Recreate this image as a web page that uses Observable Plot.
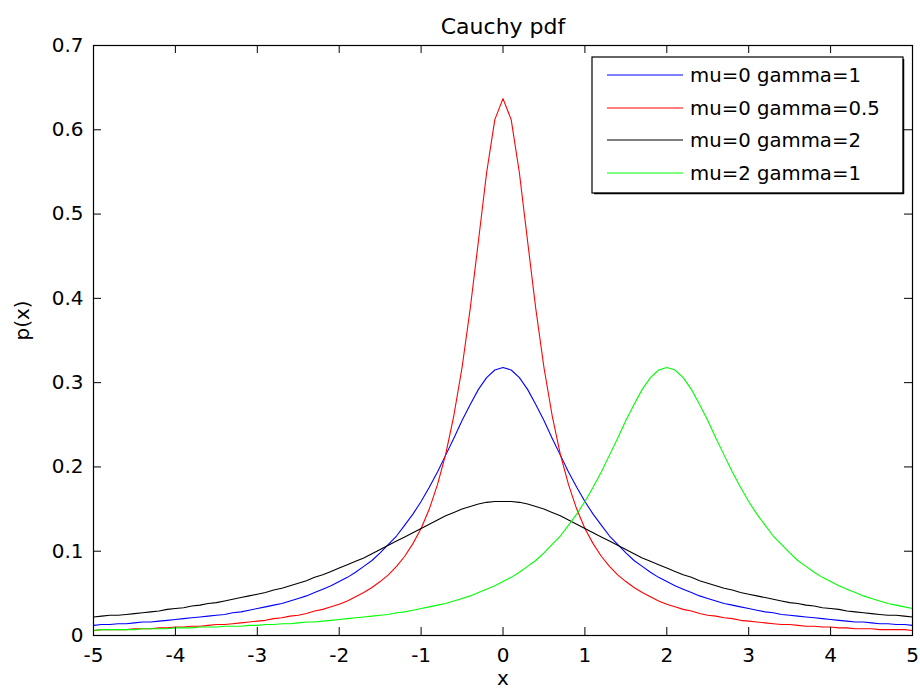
<!DOCTYPE html>
<html>
<head>
<meta charset="utf-8">
<script src="https://cdn.jsdelivr.net/npm/d3@7"></script>
<script src="https://cdn.jsdelivr.net/npm/@observablehq/plot@0.6"></script>
<style>
  html, body { margin: 0; padding: 0; background: #ffffff; }
  #chart { width: 920px; height: 693px; }
</style>
</head>
<body>
<div id="chart"></div>
<script>
// ---- data ----
const xs = [-5.0,-4.9,-4.8,-4.7,-4.6,-4.5,-4.4,-4.3,-4.2,-4.1,-4.0,-3.9,-3.8,-3.7,-3.6,-3.5,-3.4,-3.3,-3.2,-3.1,
  -3.0,-2.9,-2.8,-2.7,-2.6,-2.5,-2.4,-2.3,-2.2,-2.1,-2.0,-1.9,-1.8,-1.7,-1.6,-1.5,-1.4,-1.3,-1.2,-1.1,
  -1.0,-0.9,-0.8,-0.7,-0.6,-0.5,-0.4,-0.3,-0.2,-0.1,0.0,0.1,0.2,0.3,0.4,0.5,0.6,0.7,0.8,0.9,
  1.0,1.1,1.2,1.3,1.4,1.5,1.6,1.7,1.8,1.9,2.0,2.1,2.2,2.3,2.4,2.5,2.6,2.7,2.8,2.9,
  3.0,3.1,3.2,3.3,3.4,3.5,3.6,3.7,3.8,3.9,4.0,4.1,4.2,4.3,4.4,4.5,4.6,4.7,4.8,4.9,5.0];

// mu=0 gamma=1
const blueY = [0.012,0.013,0.013,0.014,0.014,0.015,0.016,0.016,0.017,0.018,0.019,0.020,0.021,0.022,0.023,0.024,0.025,0.027,0.028,0.030,
  0.032,0.034,0.036,0.038,0.041,0.044,0.047,0.051,0.055,0.059,0.064,0.069,0.075,0.082,0.089,0.098,0.108,0.118,0.131,0.144,
  0.159,0.176,0.194,0.214,0.234,0.255,0.274,0.292,0.306,0.315,0.318,0.315,0.306,0.292,0.274,0.255,0.234,0.214,0.194,0.176,
  0.159,0.144,0.131,0.118,0.108,0.098,0.089,0.082,0.075,0.069,0.064,0.059,0.055,0.051,0.047,0.044,0.041,0.038,0.036,0.034,
  0.032,0.030,0.028,0.027,0.025,0.024,0.023,0.022,0.021,0.020,0.019,0.018,0.017,0.016,0.016,0.015,0.014,0.014,0.013,0.013,0.012];

// mu=0 gamma=0.5
const redY = [0.006,0.007,0.007,0.007,0.007,0.008,0.008,0.008,0.009,0.009,0.010,0.010,0.011,0.011,0.012,0.013,0.013,0.014,0.015,0.016,
  0.017,0.018,0.020,0.021,0.023,0.024,0.026,0.029,0.031,0.034,0.037,0.041,0.046,0.051,0.057,0.064,0.072,0.082,0.094,0.109,
  0.127,0.150,0.179,0.215,0.261,0.318,0.388,0.468,0.549,0.612,0.637,0.612,0.549,0.468,0.388,0.318,0.261,0.215,0.179,0.150,
  0.127,0.109,0.094,0.082,0.072,0.064,0.057,0.051,0.046,0.041,0.037,0.034,0.031,0.029,0.026,0.024,0.023,0.021,0.020,0.018,
  0.017,0.016,0.015,0.014,0.013,0.013,0.012,0.011,0.011,0.010,0.010,0.009,0.009,0.008,0.008,0.008,0.007,0.007,0.007,0.007,0.006];

// mu=0 gamma=2
const blackY = [0.022,0.023,0.024,0.024,0.025,0.026,0.027,0.028,0.029,0.031,0.032,0.033,0.035,0.036,0.038,0.039,0.041,0.043,0.045,0.047,
  0.049,0.051,0.054,0.056,0.059,0.062,0.065,0.069,0.072,0.076,0.080,0.084,0.088,0.092,0.097,0.102,0.107,0.112,0.117,0.122,
  0.127,0.132,0.137,0.142,0.146,0.150,0.153,0.156,0.158,0.159,0.159,0.159,0.158,0.156,0.153,0.150,0.146,0.142,0.137,0.132,
  0.127,0.122,0.117,0.112,0.107,0.102,0.097,0.092,0.088,0.084,0.080,0.076,0.072,0.069,0.065,0.062,0.059,0.056,0.054,0.051,
  0.049,0.047,0.045,0.043,0.041,0.039,0.038,0.036,0.035,0.033,0.032,0.031,0.029,0.028,0.027,0.026,0.025,0.024,0.024,0.023,0.022];

// mu=2 gamma=1
const greenY = [0.006,0.007,0.007,0.007,0.007,0.007,0.008,0.008,0.008,0.008,0.009,0.009,0.009,0.010,0.010,0.010,0.011,0.011,0.011,0.012,
  0.012,0.013,0.013,0.014,0.014,0.015,0.016,0.016,0.017,0.018,0.019,0.020,0.021,0.022,0.023,0.024,0.025,0.027,0.028,0.030,
  0.032,0.034,0.036,0.038,0.041,0.044,0.047,0.051,0.055,0.059,0.064,0.069,0.075,0.082,0.089,0.098,0.108,0.118,0.131,0.144,
  0.159,0.176,0.194,0.214,0.234,0.255,0.274,0.292,0.306,0.315,0.318,0.315,0.306,0.292,0.274,0.255,0.234,0.214,0.194,0.176,
  0.159,0.144,0.131,0.118,0.108,0.098,0.089,0.082,0.075,0.069,0.064,0.059,0.055,0.051,0.047,0.044,0.041,0.038,0.036,0.034,0.032];

const seriesNames = ["mu=0 gamma=1", "mu=0 gamma=0.5", "mu=0 gamma=2", "mu=2 gamma=1"];
const seriesColors = ["#0000ff", "#ff0000", "#000000", "#00ff00"];
const seriesValues = [blueY, redY, blackY, greenY];

const xTicks = [-5, -4, -3, -2, -1, 0, 1, 2, 3, 4, 5];
const yTicks = [0, 0.1, 0.2, 0.3, 0.4, 0.5, 0.6, 0.7];
const yTickLabels = ["0", "0.1", "0.2", "0.3", "0.4", "0.5", "0.6", "0.7"];

const titleText = "Cauchy pdf";
const xLabel = "x";
const yLabel = "p(x)";

// ---- chart ----
const W = 920, H = 693;
const mL = 93, mR = 8, mT = 45, mB = 58;
const frameW = W - mL - mR, frameH = H - mT - mB;
const tickLen = 8;
const font = "DejaVu Sans";

const lineMarks = seriesValues.map((ys, i) =>
  Plot.line(xs, {x: xs, y: ys, stroke: seriesColors[i], strokeWidth: 1.1})
);

const svg = Plot.plot({
  width: W,
  height: H,
  marginLeft: mL,
  marginRight: mR,
  marginTop: mT,
  marginBottom: mB,
  style: {fontFamily: font, fontSize: "20px", background: "#ffffff", color: "#000000"},
  x: {domain: [-5, 5]},
  y: {domain: [0, 0.7]},
  marks: [
    ...lineMarks,
    Plot.frame({stroke: "#000000", strokeWidth: 1.2}),
    // inward ticks (bottom, top, left, right)
    Plot.ruleX(xTicks, {x: d => d, insetTop: frameH - tickLen, stroke: "#000000"}),
    Plot.ruleX(xTicks, {x: d => d, insetBottom: frameH - tickLen, stroke: "#000000"}),
    Plot.ruleY(yTicks, {y: d => d, insetRight: frameW - tickLen, stroke: "#000000"}),
    Plot.ruleY(yTicks, {y: d => d, insetLeft: frameW - tickLen, stroke: "#000000"}),
    Plot.axisX({ticks: xTicks, tickSize: 0, tickPadding: 12, tickFormat: d => String(d), label: null, fontSize: 20, fill: "#000000"}),
    Plot.axisY({ticks: yTicks, tickSize: 0, tickPadding: 10, tickFormat: (d, i) => yTickLabels[i], label: null, fontSize: 20, fill: "#000000"}),
    Plot.text([titleText], {text: d => d, frameAnchor: "top", dy: -27, fontSize: 22, fill: "#000000"}),
    Plot.text([xLabel], {text: d => d, frameAnchor: "bottom", dy: 49, fontSize: 20, fill: "#000000"}),
    Plot.text([yLabel], {text: d => d, frameAnchor: "left", dx: -71, rotate: -90, fontSize: 20, fill: "#000000"})
  ]
});

// ---- legend (inside plot area, top-right) ----
const sel = d3.select(svg);
const lg = sel.append("g").attr("font-family", font).attr("font-size", "19.7px").attr("text-anchor", "start");
const lx = 592, ly = 57, lw = 311, lh = 136;
lg.append("rect").attr("x", lx).attr("y", ly).attr("width", lw).attr("height", lh)
  .attr("fill", "#ffffff").attr("stroke", "#000000").attr("stroke-width", 1.2);
lg.append("line").attr("x1", lx + lw + 0.5).attr("x2", lx + lw + 0.5).attr("y1", ly + 2).attr("y2", ly + lh + 1)
  .attr("stroke", "#000000").attr("stroke-width", 1.5);
lg.append("line").attr("x1", lx + 2).attr("x2", lx + lw + 1).attr("y1", ly + lh + 0.5).attr("y2", ly + lh + 0.5)
  .attr("stroke", "#000000").attr("stroke-width", 1.5);
const rowY = [75, 108, 140, 173];
seriesNames.forEach((name, i) => {
  lg.append("line").attr("x1", 607).attr("x2", 683).attr("y1", rowY[i]).attr("y2", rowY[i])
    .attr("stroke", seriesColors[i]).attr("stroke-width", 1.1);
  lg.append("text").attr("x", 690).attr("y", rowY[i]).attr("dy", "0.36em")
    .attr("text-anchor", "start").attr("fill", "#000000").text(name);
});

document.getElementById("chart").appendChild(svg);
</script>
</body>
</html>
